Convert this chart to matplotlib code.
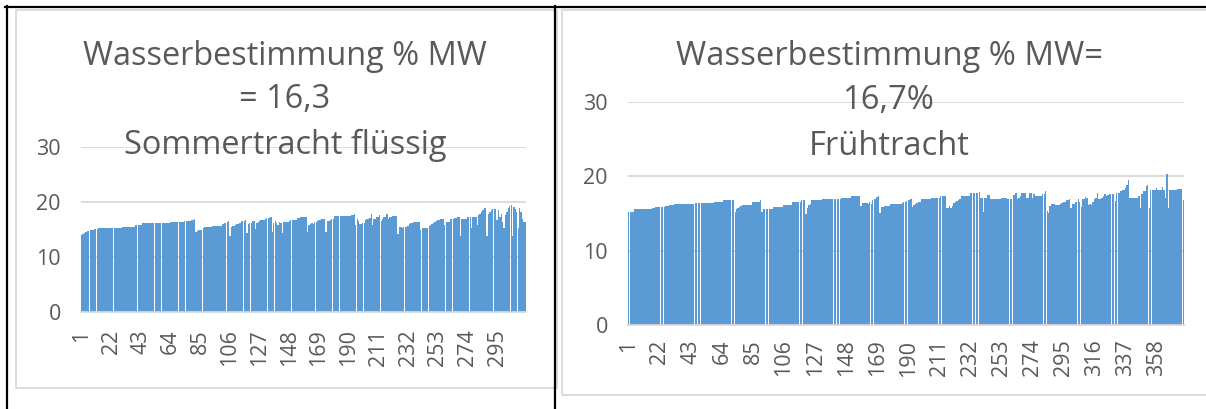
import numpy as np
import matplotlib
matplotlib.use("Agg")
import matplotlib.pyplot as plt
from matplotlib.patches import Rectangle
from matplotlib.lines import Line2D

W, H = 1206, 409

# ---------------- data ----------------
sommer_values = [
    14.0, 14.2, 14.4, 14.5, 14.7, 14.7, 14.9, 14.9, 15.0, 15.1, 15.1, 15.1, 15.2, 15.2, 15.3, 15.3, 15.3, 15.3, 15.3, 15.3,
    15.3, 15.3, 15.3, 15.3, 15.3, 15.3, 15.3, 15.3, 15.3, 15.5, 15.5, 15.5, 15.5, 15.5, 15.5, 15.5, 15.5, 15.5, 15.8, 15.8,
    15.8, 15.8, 15.8, 16.1, 16.1, 16.1, 16.1, 16.1, 16.1, 16.1, 16.1, 16.1, 16.1, 16.1, 16.1, 16.1, 16.1, 16.1, 16.1, 16.1,
    16.1, 16.1, 16.1, 16.3, 16.3, 16.3, 16.3, 16.3, 16.3, 16.3, 16.3, 16.3, 16.3, 16.5, 16.5, 16.5, 16.5, 16.5, 16.7, 16.8,
    16.9, 14.6, 14.8, 14.9, 15.0, 15.0, 15.3, 15.4, 15.4, 15.4, 15.4, 15.4, 15.4, 15.7, 15.7, 15.7, 15.7, 15.7, 15.7, 15.7,
    16.0, 16.1, 16.2, 16.3, 16.6, 13.8, 15.5, 15.6, 15.7, 15.8, 16.0, 16.0, 16.1, 16.5, 16.6, 16.6, 16.7, 14.4, 16.0, 16.1,
    16.2, 16.5, 16.6, 15.1, 16.1, 16.4, 16.6, 16.7, 16.7, 16.8, 17.0, 17.1, 17.1, 17.1, 17.2, 14.6, 16.1, 16.5, 16.1, 15.9,
    16.3, 16.1, 14.4, 16.3, 16.4, 16.4, 16.4, 16.5, 16.8, 16.8, 16.8, 16.8, 16.8, 17.1, 17.1, 17.2, 17.2, 17.2, 17.2, 17.2,
    14.6, 15.9, 16.0, 16.1, 16.0, 16.3, 16.4, 16.6, 16.7, 16.8, 16.9, 17.0, 17.0, 14.6, 16.5, 16.6, 16.8, 16.9, 17.0, 17.4,
    17.4, 17.4, 17.4, 17.4, 17.4, 17.4, 17.4, 17.4, 17.4, 17.4, 17.4, 17.6, 17.6, 17.9, 15.8, 17.0, 16.5, 16.0, 16.0, 16.1,
    16.2, 16.8, 17.0, 17.0, 17.1, 17.9, 15.8, 16.9, 17.0, 17.2, 17.2, 17.6, 16.5, 17.0, 17.2, 17.3, 17.9, 17.0, 17.3, 17.3,
    17.5, 17.5, 17.5, 17.5, 14.2, 15.4, 15.5, 15.3, 15.4, 15.5, 15.5, 15.6, 16.0, 16.1, 16.2, 16.3, 16.3, 16.4, 16.4, 16.4,
    15.0, 15.3, 15.3, 15.3, 15.3, 15.3, 15.6, 15.8, 16.0, 16.2, 16.4, 16.5, 16.7, 16.8, 16.9, 17.0, 17.0, 15.8, 16.3, 16.4,
    16.4, 16.9, 17.0, 17.0, 17.1, 17.1, 17.2, 17.2, 13.9, 17.0, 17.0, 17.0, 17.0, 17.3, 17.3, 17.3, 15.2, 17.3, 17.3, 17.3,
    15.8, 17.6, 17.9, 18.2, 18.5, 18.85, 19.0, 13.9, 17.9, 18.2, 18.5, 18.7, 18.7, 18.7, 16.7, 18.5, 17.3, 17.9, 16.4, 15.2,
    17.6, 18.2, 18.9, 19.2, 19.5, 13.9, 19.15, 18.7, 18.2, 15.2, 19.0, 18.2, 17.0, 16.4, 16.4,
]

frueh_values = [
    15.2, 15.2, 15.2, 15.2, 15.6, 15.6, 15.6, 15.6, 15.6, 15.6, 15.6, 15.6, 15.6, 15.6, 15.6, 15.6, 15.8, 15.8, 15.9, 15.9,
    15.9, 15.9, 15.9, 15.9, 15.9, 16.0, 16.0, 16.0, 16.1, 16.1, 16.1, 16.3, 16.3, 16.3, 16.3, 16.3, 16.3, 16.3, 16.3, 16.3,
    16.3, 16.3, 16.3, 16.3, 16.3, 16.4, 16.4, 16.4, 16.4, 16.4, 16.4, 16.4, 16.4, 16.4, 16.4, 16.4, 16.4, 16.4, 16.6, 16.6,
    16.6, 16.6, 16.6, 16.6, 16.8, 16.8, 16.8, 16.8, 16.8, 16.8, 16.8, 16.8, 15.2, 15.6, 15.8, 15.9, 16.0, 16.2, 16.2, 16.2,
    16.2, 16.2, 16.2, 16.2, 16.6, 16.6, 16.6, 16.6, 16.6, 16.8, 15.2, 15.6, 15.6, 15.6, 15.6, 15.6, 15.6, 15.6, 15.85, 15.85,
    15.85, 15.85, 15.85, 15.85, 15.85, 16.2, 16.2, 16.2, 16.2, 16.2, 16.2, 16.5, 16.5, 16.5, 16.5, 16.5, 16.5, 16.8, 16.8, 16.8,
    14.9, 15.8, 16.1, 16.3, 16.8, 16.8, 16.8, 16.8, 16.8, 16.8, 16.8, 17.0, 17.0, 17.0, 17.0, 17.0, 17.0, 17.0, 17.0, 17.0,
    17.0, 17.0, 17.0, 17.0, 17.1, 17.1, 17.1, 17.1, 17.1, 17.1, 17.1, 17.3, 17.3, 17.3, 17.3, 17.3, 17.3, 16.0, 16.4, 16.4,
    16.4, 16.4, 16.3, 16.5, 16.3, 16.8, 16.9, 17.0, 17.2, 17.3, 15.1, 15.9, 15.9, 16.0, 16.0, 16.0, 16.0, 16.3, 16.3, 16.3,
    16.3, 16.3, 16.3, 16.3, 16.3, 16.4, 16.5, 16.6, 16.7, 16.8, 16.8, 16.9, 15.9, 16.2, 16.3, 16.4, 16.5, 16.5, 16.9, 16.9,
    16.9, 16.9, 16.9, 16.9, 16.9, 17.1, 17.1, 17.1, 17.1, 17.1, 17.1, 17.3, 17.3, 17.3, 17.3, 15.8, 15.8, 16.0, 15.8, 16.0,
    16.4, 16.5, 16.7, 16.8, 16.9, 17.4, 17.4, 17.4, 17.4, 17.4, 17.4, 17.8, 17.8, 17.8, 17.8, 17.8, 17.8, 17.9, 17.1, 17.1,
    15.2, 17.1, 17.1, 17.5, 17.5, 16.9, 16.9, 16.9, 16.9, 16.9, 16.9, 16.9, 17.1, 17.1, 17.1, 17.1, 17.0, 17.0, 17.0, 17.0,
    17.5, 17.5, 17.8, 16.9, 17.1, 17.4, 17.7, 17.8, 17.8, 17.1, 17.1, 17.7, 17.7, 17.1, 17.6, 17.3, 17.3, 17.3, 17.3, 17.3,
    17.6, 17.6, 18.0, 15.3, 15.1, 16.0, 16.3, 16.3, 16.3, 16.2, 16.2, 16.2, 16.3, 16.4, 16.5, 16.6, 16.8, 16.8, 16.9, 15.8,
    16.3, 16.3, 16.6, 16.6, 17.0, 16.6, 15.9, 16.9, 17.0, 17.25, 17.1, 16.2, 16.3, 16.2, 16.6, 16.9, 17.1, 17.7, 16.9, 16.9,
    17.1, 17.3, 17.6, 17.3, 17.5, 17.6, 17.6, 17.6, 17.6, 16.7, 17.8, 17.8, 17.8, 18.0, 18.1, 18.2, 18.4, 18.8, 19.45, 17.1,
    17.1, 17.1, 17.1, 17.1, 17.1, 17.3, 15.8, 17.6, 18.0, 18.0, 18.7, 18.8, 15.8, 18.2, 18.2, 18.2, 18.1, 18.4, 18.1, 18.2,
    18.2, 18.5, 18.2, 17.1, 20.3, 15.8, 18.2, 18.2, 18.2, 18.2, 18.2, 18.3, 18.3, 18.3, 18.3, 16.8,
]

sommer_title = ["Wasserbestimmung % MW", "= 16,3", "Sommertracht flüssig"]
frueh_title = ["Wasserbestimmung % MW=", "16,7%", "Frühtracht"]
y_ticks = [0, 10, 20, 30]
label_step = 21

# ---------------- styling ----------------
FONT = "Open Sans"
TXT = "#595959"
GRID = "#d9d9d9"
BAR = "#5b9bd5"
plt.rcParams["font.family"] = [FONT, "DejaVu Sans"]

fig = plt.figure(figsize=(W / 100, H / 100), dpi=100)
fig.patch.set_facecolor("white")


def fx(x):
    return x / W


def fy(y):
    return 1 - y / H


def rect(l, t, r, b):
    return [fx(l), fy(b), (r - l) / W, (b - t) / H]


# chart frames (light grey)
for (l, t, r, b) in [(16, 10, 557, 388), (562, 10, 1216, 395)]:
    fig.add_artist(Rectangle((fx(l), fy(b)), (r - l) / W, (b - t) / H,
                             transform=fig.transFigure, fill=False,
                             ec=GRID, lw=1.3, zorder=1))


def draw(ax, values, xpad):
    n = len(values)
    x = np.arange(1, n + 1)
    ax.bar(x, values, width=0.94, color=BAR, linewidth=0, zorder=2)
    ax.set_xlim(0.5, n + 0.5)
    ax.set_ylim(y_ticks[0], y_ticks[-1])
    ax.set_yticks(y_ticks)
    ax.set_yticklabels([str(v) for v in y_ticks])
    ax.set_xticks(x[::label_step])
    ax.set_xticklabels([str(v) for v in x[::label_step]], rotation=90)
    ax.yaxis.grid(True, color=GRID, lw=1.3)
    ax.set_axisbelow(True)
    for s in ["top", "left", "right"]:
        ax.spines[s].set_visible(False)
    ax.spines["bottom"].set_color(GRID)
    ax.spines["bottom"].set_linewidth(1.3)
    ax.tick_params(axis="both", length=0, labelsize=15.5, labelcolor=TXT)
    ax.tick_params(axis="y", pad=14.5)
    ax.tick_params(axis="x", pad=xpad)
    ax.set_facecolor("none")


ax1 = fig.add_axes(rect(81, 147, 526, 312))
draw(ax1, sommer_values, 12.5)
ax2 = fig.add_axes(rect(628, 102, 1184, 325))
draw(ax2, frueh_values, 10.5)

# titles
def title(lines, cx, baselines, target_w):
    ts = [fig.text(fx(cx), fy(b), s, ha="center", va="baseline",
                   fontsize=24, color=TXT, zorder=5) for s, b in zip(lines, baselines)]
    fig.canvas.draw()
    w = ts[0].get_window_extent().width
    fs = 24 * target_w / w
    for t in ts:
        t.set_fontsize(fs)


title(sommer_title, 285, [65, 108, 154], 405)
title(frueh_title, 889, [65, 109, 155], 428)

# table cell borders (black)
lw = 1.6
fig.add_artist(Line2D([fx(5), fx(1206)], [fy(7), fy(7)], color="black", lw=lw, transform=fig.transFigure))
fig.add_artist(Line2D([fx(6.5), fx(6.5)], [fy(6), fy(409)], color="black", lw=lw, transform=fig.transFigure))
fig.add_artist(Line2D([fx(555), fx(555)], [fy(6), fy(409)], color="black", lw=lw, transform=fig.transFigure))

fig.savefig("out.png", dpi=100, facecolor="white")
